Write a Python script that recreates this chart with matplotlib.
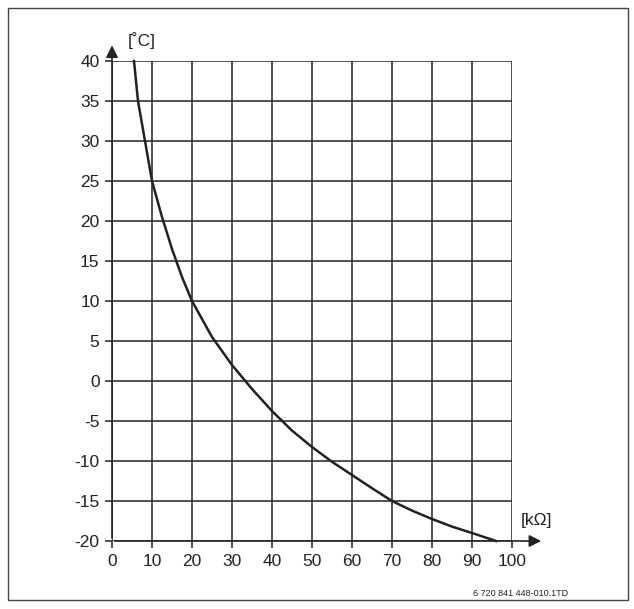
import matplotlib
matplotlib.use("Agg")
import matplotlib.pyplot as plt
from matplotlib.patches import Rectangle

plt.rcParams['font.family'] = ['Liberation Sans', 'DejaVu Sans']

resistance = [5.5, 6.5, 8.25, 10, 12.5, 15, 17.5, 20, 25, 30, 35, 40, 45, 50, 55, 60, 65, 70, 75, 80, 85, 90, 96]
temperature = [40, 35, 30, 25, 20.5, 16.5, 13, 10, 5.5, 2, -1, -3.75, -6.2, -8.25, -10.1, -11.75, -13.4, -15, -16.2, -17.25, -18.2, -19, -20]
xticks = [0, 10, 20, 30, 40, 50, 60, 70, 80, 90, 100]
yticks = [-20, -15, -10, -5, 0, 5, 10, 15, 20, 25, 30, 35, 40]

fig = plt.figure(figsize=(6.34, 6.09), dpi=100)
fig.patches.append(Rectangle((8/634, 9/609), 620/634, 592/609, transform=fig.transFigure,
                             fill=False, edgecolor="#444444", linewidth=1))
ax = fig.add_axes([112/634, 68/609, 400/634, 480/609])
ax.set_xlim(0, 100)
ax.set_ylim(-20, 40)
for s in ax.spines.values():
    s.set_visible(False)
ax.set_xticks(xticks)
ax.set_yticks(yticks)
ax.set_xticklabels([str(v) for v in xticks], fontsize=12.5, color="#222222")
ax.set_yticklabels([str(v) for v in yticks], fontsize=12.5, color="#222222")
ax.tick_params(length=5, width=1.2, color="#333333", pad=4)
ax.grid(True, color="#333333", linewidth=1.2)
ax.plot(resistance, temperature, color="#222222", linewidth=1.8, clip_on=False)

ax.annotate("", xy=(108, -20), xytext=(0, -20), annotation_clip=False,
            arrowprops=dict(arrowstyle="-|>", color="#222222", lw=1.2, mutation_scale=18))
ax.annotate("", xy=(0, 42.3), xytext=(0, -20), annotation_clip=False,
            arrowprops=dict(arrowstyle="-|>", color="#222222", lw=1.2, mutation_scale=18))
ax.text(4, 42.6, "[˚C]", fontsize=12.5, color="#222222", va="center", ha="left")
ax.text(106, -17.5, "[kΩ]", fontsize=12.5, color="#222222", va="center", ha="center")
ax.text(114, -26.6, "6 720 841 448-010.1TD", fontsize=6.5, color="#222222", va="center", ha="right")

fig.savefig("out.png", dpi=100)
